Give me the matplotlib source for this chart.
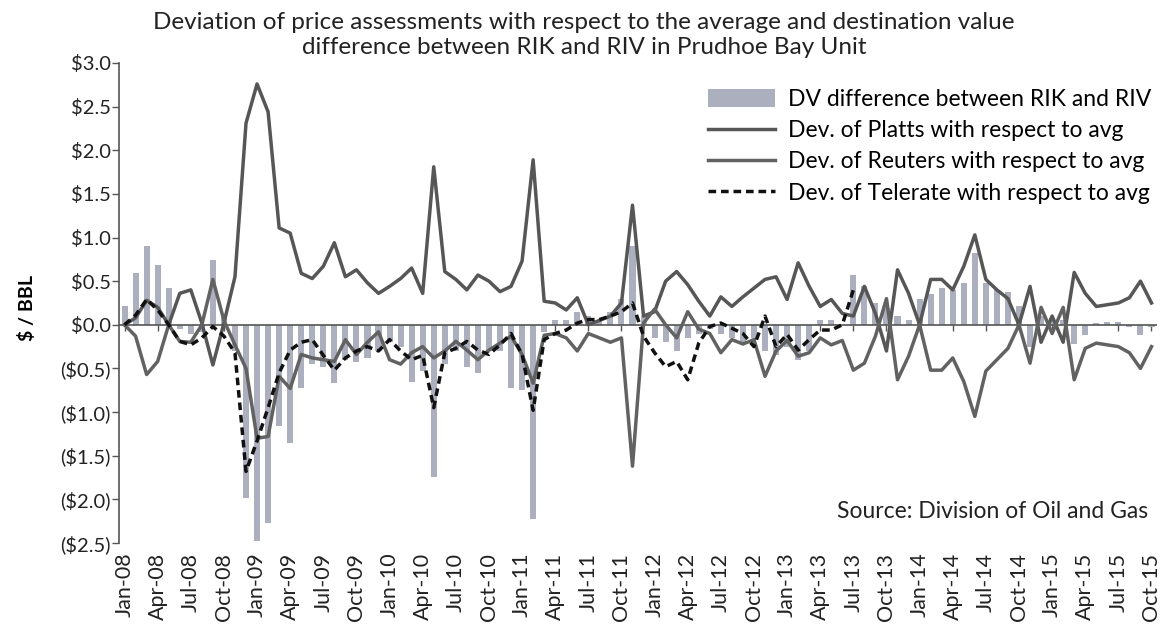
import numpy as np
import pandas as pd
import matplotlib
matplotlib.use("Agg")
import matplotlib.pyplot as plt
from matplotlib.patches import Patch
from matplotlib.lines import Line2D

plt.rcParams['font.family'] = ['Lato', 'DejaVu Sans']

# Monthly series, Jan-08 .. Oct-15 ($/BBL)
months = pd.date_range('2008-01-01', periods=94, freq='MS')
month_labels = [m.strftime('%b-%y') for m in months]

dv_diff = [0.21, 0.59, 0.90, 0.69, 0.42, -0.05, -0.10, -0.08, 0.74, 0.12,
           -0.30, -1.98, -2.48, -2.27, -1.16, -1.35, -0.72, -0.45, -0.48, -0.67,
           -0.40, -0.43, -0.38, -0.30, -0.20, -0.25, -0.65, -0.53, -1.74, -0.45,
           -0.30, -0.48, -0.55, -0.30, -0.30, -0.72, -0.75, -2.22, -0.08, 0.05,
           0.05, 0.15, 0.10, 0.05, 0.15, 0.30, 0.90, 0.10, -0.15, -0.20,
           -0.30, -0.15, -0.10, -0.05, -0.10, -0.15, -0.20, -0.15, -0.30, -0.35,
           -0.25, -0.40, -0.30, 0.06, 0.05, 0.00, 0.57, 0.44, 0.25, 0.19,
           0.10, 0.06, 0.30, 0.35, 0.42, 0.40, 0.48, 0.82, 0.48, 0.40,
           0.38, 0.21, -0.25, 0.10, 0.08, 0.06, -0.22, -0.12, 0.02, 0.03,
           0.03, -0.02, -0.12, -0.02]

platts = [0.00, 0.08, 0.28, 0.20, 0.00, 0.36, 0.40, 0.02, -0.46, 0.02,
          0.55, 2.31, 2.76, 2.44, 1.11, 1.05, 0.59, 0.53, 0.67, 0.94,
          0.55, 0.63, 0.48, 0.36, 0.44, 0.53, 0.65, 0.36, 1.81, 0.61,
          0.52, 0.40, 0.57, 0.50, 0.38, 0.44, 0.73, 1.89, 0.27, 0.25,
          0.17, 0.31, 0.00, 0.05, 0.10, 0.25, 1.37, 0.10, 0.15, 0.50,
          0.61, 0.46, 0.27, 0.10, 0.32, 0.21, 0.32, 0.42, 0.52, 0.55,
          0.29, 0.71, 0.44, 0.21, 0.29, 0.13, 0.10, 0.44, 0.13, -0.30,
          0.63, 0.36, 0.00, 0.52, 0.52, 0.40, 0.67, 1.03, 0.52, 0.40,
          0.30, 0.00, 0.44, -0.20, 0.10, -0.20, 0.60, 0.36, 0.21, 0.23,
          0.25, 0.31, 0.50, 0.25]

reuters = [0.00, -0.13, -0.57, -0.42, 0.00, -0.19, -0.20, 0.00, 0.52, 0.05,
           -0.23, -0.50, -1.30, -1.28, -0.59, -0.73, -0.34, -0.38, -0.40, -0.42,
           -0.17, -0.34, -0.20, -0.08, -0.40, -0.45, -0.32, -0.25, -0.38, -0.30,
           -0.19, -0.29, -0.40, -0.29, -0.21, -0.13, -0.34, -0.67, -0.12, -0.10,
           -0.15, -0.30, -0.10, -0.15, -0.20, -0.15, -1.62, 0.02, 0.18, 0.00,
           -0.15, 0.15, -0.05, -0.10, -0.32, -0.17, -0.22, -0.17, -0.59, -0.30,
           -0.18, -0.36, -0.32, -0.15, -0.23, -0.18, -0.52, -0.44, -0.13, 0.30,
           -0.63, -0.36, 0.00, -0.52, -0.52, -0.38, -0.65, -1.05, -0.53, -0.40,
           -0.27, 0.00, -0.44, 0.20, -0.10, 0.20, -0.63, -0.27, -0.21, -0.23,
           -0.25, -0.32, -0.50, -0.25]

# Telerate series stops in Jul-13
telerate = [0.00, 0.11, 0.29, 0.17, 0.00, -0.19, -0.23, -0.15, -0.02, -0.13,
            -0.32, -1.68, -1.33, -0.95, -0.55, -0.29, -0.20, -0.17, -0.35, -0.52,
            -0.38, -0.30, -0.25, -0.30, -0.17, -0.30, -0.40, -0.35, -0.95, -0.32,
            -0.27, -0.19, -0.29, -0.34, -0.23, -0.10, -0.34, -0.98, -0.17, -0.10,
            -0.06, 0.02, 0.06, 0.06, 0.10, 0.15, 0.25, -0.13, -0.32, -0.48,
            -0.42, -0.63, -0.21, -0.02, 0.02, -0.04, -0.10, -0.25, 0.10, -0.25,
            -0.11, -0.29, -0.17, -0.06, -0.06, 0.00, 0.40]

y_ticks = [3.0, 2.5, 2.0, 1.5, 1.0, 0.5, 0.0, -0.5, -1.0, -1.5, -2.0, -2.5]


def money(v):
    if v < 0:
        return f"(${abs(v):.1f})"
    return f"${v:.1f}"


fig = plt.figure(figsize=(11.68, 6.31), dpi=100, facecolor='white')
ax = fig.add_axes([0.1019, 0.1395, 0.8887, 0.7607])

x = np.arange(len(months))
bar_color = '#abafbe'
ax.bar(x, dv_diff, width=0.55, color=bar_color, edgecolor='none', zorder=1)
ax.plot(x, platts, color='#565656', lw=2.5, zorder=3)
ax.plot(x, reuters, color='#626262', lw=2.5, zorder=3)
ax.plot(x[:len(telerate)], telerate, color='#111111', lw=2.5,
        linestyle=(0, (2.2, 1.4)), zorder=4)

ax.set_xlim(-0.5, len(months) - 0.5)
ax.set_ylim(-2.5, 3.0)
ax.set_yticks(y_ticks)
ax.set_yticklabels([money(v) for v in y_ticks], fontsize=14.5, color='#222222')

ax.set_xticks(x[::3])
ax.set_xticklabels(month_labels[::3], rotation=90, fontsize=15.5, color='#222222')
ax.tick_params(axis='x', length=0, pad=7)
ax.tick_params(axis='y', length=5, width=1, color='#555555', pad=1)

for side in ['top', 'right', 'bottom']:
    ax.spines[side].set_visible(False)
ax.spines['left'].set_color('#555555')
ax.spines['left'].set_linewidth(1.2)

# zero axis with quarterly tick marks
ax.axhline(0, color='#555555', lw=1.2, zorder=2)
sec = ax.secondary_xaxis(0, transform=ax.transData)
sec.set_xticks(x[::3])
sec.set_xticklabels([])
sec.tick_params(axis='x', length=4, width=1, color='#555555', direction='out')
sec.spines['bottom'].set_visible(False)

ax.set_ylabel('$ / BBL', fontsize=14, fontweight='bold')
ax.yaxis.set_label_coords(-0.08, 0.49)

fig.text(0.5, 0.944,
         'Deviation of price assessments with respect to the average and destination value\n'
         'difference between RIK and RIV in Prudhoe Bay Unit',
         ha='center', va='center', fontsize=17.5, color='#222222', linespacing=1.25)

handles = [Patch(facecolor=bar_color, edgecolor='none'),
           Line2D([], [], color='#565656', lw=2.5),
           Line2D([], [], color='#626262', lw=2.5),
           Line2D([], [], color='#111111', lw=2.5, linestyle=(0, (2.2, 1.4)))]
labels = ['DV difference between RIK and RIV',
          'Dev. of Platts with respect to avg',
          'Dev. of Reuters with respect to avg',
          'Dev. of Telerate with respect to avg']
ax.legend(handles, labels, loc='upper right', bbox_to_anchor=(1.008, 0.975),
          frameon=False, fontsize=16.5, handlelength=2.9, handleheight=0.8,
          handletextpad=0.6, labelspacing=0.45, borderaxespad=0.2)

ax.text(0.991, 0.065, 'Source: Division of Oil and Gas', transform=ax.transAxes,
        ha='right', va='center', fontsize=16.5, color='#222222')

fig.savefig('out.png', dpi=100, facecolor='white')
